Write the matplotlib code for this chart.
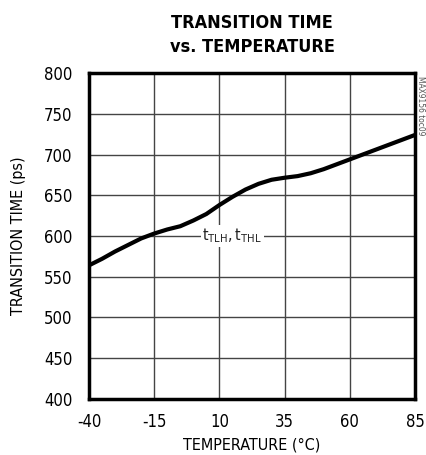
import matplotlib
matplotlib.use('Agg')
import numpy as np
import matplotlib.pyplot as plt

# temperature (degC) vs transition time (ps)
temperatura = [-40, -35, -30, -25, -20, -15, -10, -5, 0, 5, 10, 15, 20, 25, 30, 35,
               40, 45, 50, 55, 60, 65, 70, 75, 80, 85]
tempo_ps = [564, 572, 581, 589, 597, 603, 608, 612, 619, 627, 638, 648, 657, 664, 669, 671.5,
            673.5, 677, 682, 688, 694, 700, 706, 712, 718, 724]

xticks = [-40, -15, 10, 35, 60, 85]
yticks = [400, 450, 500, 550, 600, 650, 700, 750, 800]

plt.rcParams['font.family'] = ['DejaVu Sans']
plt.rcParams['font.stretch'] = 'condensed'

fig = plt.figure(figsize=(4.26, 4.55), dpi=100)
ax = fig.add_axes([89 / 426, 1 - 399 / 455, 326 / 426, 326 / 455])

ax.plot(temperatura, tempo_ps, color='black', linewidth=3, solid_capstyle='round',
        solid_joinstyle='round', zorder=3)

ax.set_xlim(-40, 85)
ax.set_ylim(400, 800)
ax.set_xticks(xticks)
ax.set_yticks(yticks)
ax.set_xticklabels(['-40', '-15', '10', '35', '60', '85'])
ax.tick_params(axis='y', length=0, labelsize=12, pad=12)
ax.tick_params(axis='x', length=0, labelsize=12, pad=10)
ax.grid(True, color='#444444', linewidth=1.0)
for lado in ax.spines.values():
    lado.set_linewidth(2.5)

ax.text(15, 600, r'$\mathregular{t_{TLH}, t_{THL}}$', ha='center', va='center', fontsize=11.5,
        color='#222222', bbox=dict(facecolor='white', edgecolor='none', pad=1), zorder=4)

ax.set_xlabel('TEMPERATURE (°C)', fontsize=11.5, labelpad=5)
ax.set_ylabel('TRANSITION TIME (ps)', fontsize=11.5, labelpad=13)

fig.text(252 / 426, 1 - 35 / 455, 'TRANSITION TIME\nvs. TEMPERATURE', ha='center', va='center',
         fontsize=13, fontweight='bold', linespacing=1.4)
fig.text(421 / 426, 1 - 106 / 455, 'MAX9156 toc09', rotation=270, ha='center', va='center',
         fontsize=6, color='#555555')

fig.savefig('out.png', dpi=100)
